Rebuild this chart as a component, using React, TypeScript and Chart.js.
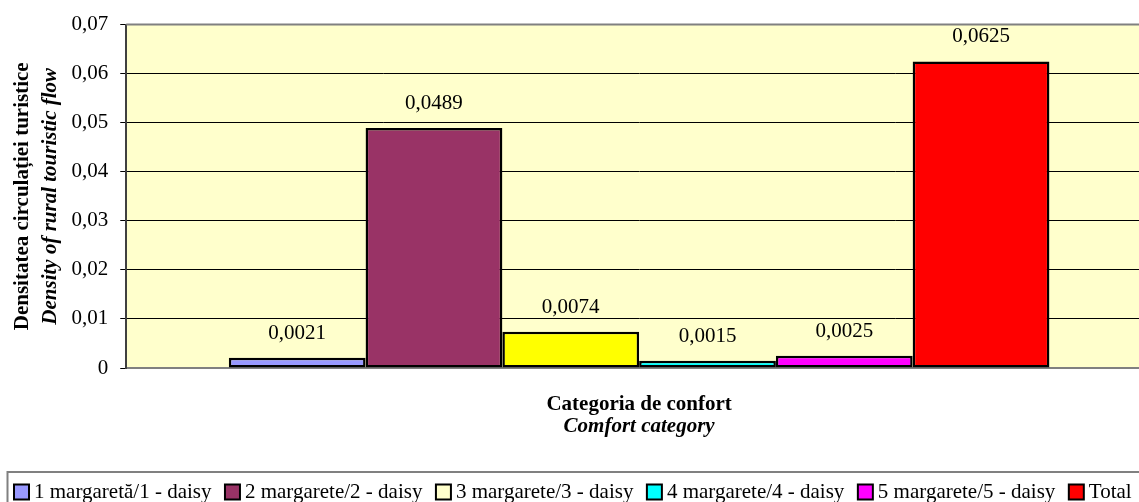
import React, { useEffect, useRef } from "react";
import { Chart, registerables } from "chart.js";

Chart.register(...registerables);

const categories = [""];
const seriesLabels = [
  "1 margaretă/1 - daisy",
  "2 margarete/2 - daisy",
  "3 margarete/3 - daisy",
  "4 margarete/4 - daisy",
  "5 margarete/5 - daisy",
  "Total",
];
const seriesValues = [0.0021, 0.0489, 0.0074, 0.0015, 0.0025, 0.0625];
const barColors = ["#9999FF", "#993366", "#FFFF00", "#00FFFF", "#FF00FF", "#FF0000"];
const legendColors = ["#9999FF", "#993366", "#FFFFCC", "#00FFFF", "#FF00FF", "#FF0000"];
const yTitleLines = ["Densitatea circulației turistice", "Density of rural touristic flow"];
const xTitleLines = ["Categoria de confort", "Comfort category"];

const FONT = "'Liberation Serif', 'Times New Roman', serif";

const fmt = (v: number, digits: number) =>
  v === 0 ? "0" : v.toFixed(digits).replace(".", ",");

const bgPlugin = {
  id: "plotBg",
  beforeDraw(chart: any) {
    const { ctx, chartArea: a } = chart;
    ctx.save();
    ctx.fillStyle = "#FFFFCC";
    ctx.fillRect(a.left, a.top, a.right - a.left, a.bottom - a.top);
    ctx.restore();
  },
};

const labelsPlugin = {
  id: "valueLabels",
  afterDatasetsDraw(chart: any) {
    const { ctx } = chart;
    ctx.save();
    ctx.font = `21px ${FONT}`;
    ctx.fillStyle = "#000";
    ctx.textAlign = "center";
    ctx.textBaseline = "middle";
    chart.data.datasets.forEach((ds: any, i: number) => {
      const meta = chart.getDatasetMeta(i);
      meta.data.forEach((el: any, j: number) => {
        ctx.fillText(fmt(ds.data[j], 4), el.x, el.y - 24.5);
      });
    });
    ctx.restore();
  },
};

const decorPlugin = {
  id: "decor",
  afterDraw(chart: any) {
    const { ctx, chartArea: a } = chart;
    ctx.save();
    // top frame line
    ctx.strokeStyle = "#808080";
    ctx.lineWidth = 2;
    ctx.beginPath();
    ctx.moveTo(a.left, a.top);
    ctx.lineTo(a.right, a.top);
    ctx.stroke();

    // y-axis titles
    const cy = (a.top + a.bottom) / 2;
    ctx.fillStyle = "#000";
    ctx.textAlign = "center";
    ctx.textBaseline = "middle";
    ctx.save();
    ctx.translate(23, cy);
    ctx.rotate(-Math.PI / 2);
    ctx.font = `bold 21px ${FONT}`;
    ctx.fillText(yTitleLines[0], 0, 0);
    ctx.restore();
    ctx.save();
    ctx.translate(51, cy);
    ctx.rotate(-Math.PI / 2);
    ctx.font = `italic bold 21px ${FONT}`;
    ctx.fillText(yTitleLines[1], 0, 0);
    ctx.restore();

    // x-axis titles
    const cx = (a.left + a.right) / 2;
    ctx.font = `bold 21px ${FONT}`;
    ctx.fillText(xTitleLines[0], cx, 405);
    ctx.font = `italic bold 21px ${FONT}`;
    ctx.fillText(xTitleLines[1], cx, 427);

    // legend
    ctx.strokeStyle = "#808080";
    ctx.lineWidth = 2;
    ctx.strokeRect(7.5, 472, 1200, 60);
    ctx.font = `21px ${FONT}`;
    ctx.textAlign = "left";
    let x = 14;
    const ly = 492;
    chart.data.datasets.forEach((ds: any, i: number) => {
      const box = 15;
      ctx.fillStyle = legendColors[i];
      ctx.fillRect(x, ly - box / 2, box, box);
      ctx.strokeStyle = "#000";
      ctx.lineWidth = 2;
      ctx.strokeRect(x, ly - box / 2, box, box);
      ctx.fillStyle = "#000";
      const tx = x + box + 5;
      ctx.fillText(ds.label, tx, ly);
      x = tx + ctx.measureText(ds.label).width + 13.5;
    });
    ctx.restore();
  },
};

export default function App() {
  const ref = useRef<HTMLCanvasElement | null>(null);
  useEffect(() => {
    if (!ref.current) return;
    const chart = new Chart(ref.current, {
      type: "bar",
      data: {
        labels: categories,
        datasets: seriesLabels.map((label, i) => ({
          label,
          data: [seriesValues[i]],
          backgroundColor: barColors[i],
          borderColor: "#000",
          borderWidth: 2.5,
          borderSkipped: false,
          categoryPercentage: 0.8,
          barPercentage: 1,
        })),
      },
      options: {
        responsive: false,
        animation: false,
        layout: { padding: { left: 59.5, top: 23, bottom: 134, right: 0 } },
        plugins: {
          legend: { display: false },
          tooltip: { enabled: false },
          title: { display: false },
        },
        scales: {
          x: {
            ticks: { display: false },
            grid: { display: false, drawTicks: false },
            border: { display: true, color: "#808080", width: 2 },
          },
          y: {
            min: 0,
            max: 0.07,
            ticks: {
              stepSize: 0.01,
              padding: 12,
              color: "#000",
              font: { family: FONT, size: 21 },
              callback: (v: any) => fmt(Math.round(Number(v) * 100) / 100, 2),
            },
            grid: {
              color: (c: any) =>
                c.tick && (Math.abs(c.tick.value) < 1e-9 || Math.abs(c.tick.value - 0.07) < 1e-9)
                  ? "rgba(0,0,0,0)"
                  : "#000",
              lineWidth: 1,
              tickLength: 6,
              tickColor: "#000",
              tickWidth: 1,
            },
            border: { display: true, color: "#404040", width: 2 },
          },
        },
      },
      plugins: [bgPlugin, labelsPlugin, decorPlugin],
    });
    return () => chart.destroy();
  }, []);
  return (
    <div
      style={{
        position: "fixed",
        left: 0,
        top: 0,
        width: 1139,
        height: 502,
        overflow: "hidden",
        background: "#fff",
      }}
    >
      <canvas ref={ref} width={1152} height={502} style={{ width: 1152, height: 502, display: "block" }} />
    </div>
  );
}
